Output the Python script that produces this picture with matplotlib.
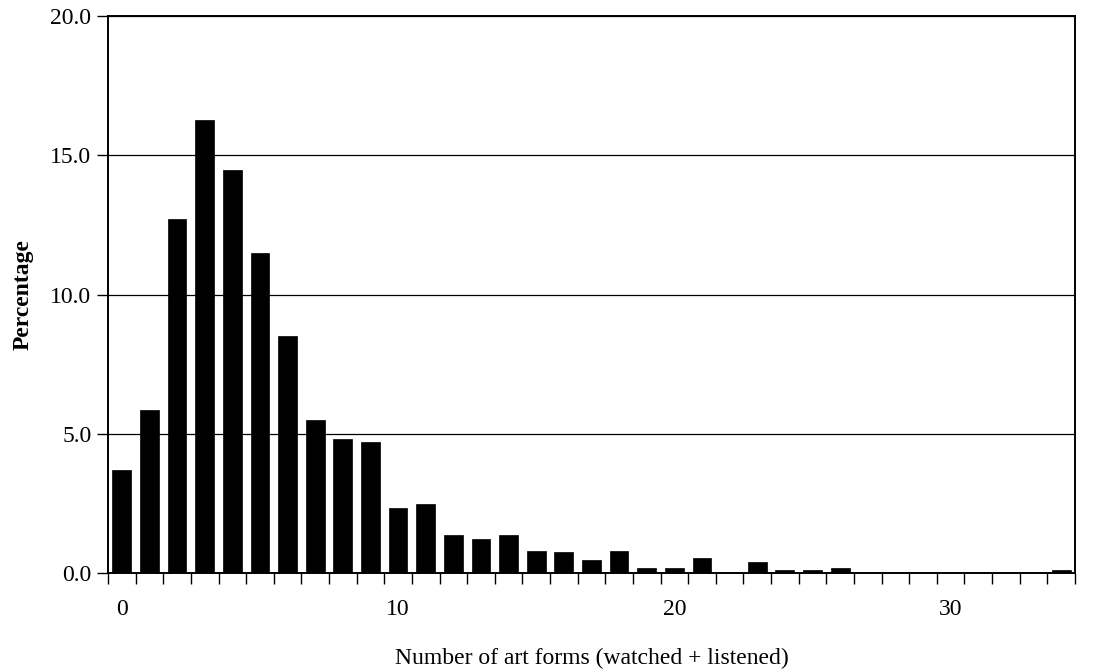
import matplotlib.pyplot as plt
import matplotlib.ticker as ticker
import numpy as np

plt.rcParams.update({
    'font.family': 'Liberation Serif',
    'font.size': 17,
})

# number of art forms watched + listened, 0..34
art_forms = list(range(35))
percentage = [3.70, 5.85, 12.72, 16.26, 14.46, 11.49, 8.50, 5.51, 4.82, 4.69,
              2.33, 2.47, 1.36, 1.21, 1.36, 0.79, 0.74, 0.46, 0.79, 0.17,
              0.17, 0.53, 0.00, 0.38, 0.10, 0.10, 0.17, 0.00, 0.00, 0.00,
              0.00, 0.00, 0.00, 0.00, 0.10]
x_ticks = [0, 10, 20, 30]
y_ticks = [0, 5, 10, 15, 20]

fig = plt.figure(figsize=(10.93, 6.72), dpi=100)
ax = fig.add_axes([0.0988, 0.1473, 0.8847, 0.8289])

ax.bar(art_forms, percentage, width=0.68, color='black', edgecolor='black',
       linewidth=0.5, zorder=3)

ax.set_xlim(-0.5, 34.5)
ax.set_ylim(0, 20)
ax.set_yticks(y_ticks)
ax.yaxis.set_major_formatter(ticker.FuncFormatter(lambda v, _: f'{v:.1f}'))
ax.yaxis.grid(True, color='black', linewidth=0.9, zorder=1)
ax.set_axisbelow(True)

ax.set_xticks(x_ticks)
ax.set_xticks(np.arange(-0.5, 35, 1), minor=True)
ax.tick_params(axis='x', which='major', length=0, pad=19)
ax.tick_params(axis='x', which='minor', length=8, width=1, color='black')
ax.tick_params(axis='y', length=8, width=1, pad=4)

for s in ax.spines.values():
    s.set_linewidth(1.4)
    s.set_color('black')

ax.set_xlabel('Number of art forms (watched + listened)', labelpad=20,
              fontsize=17)
ax.set_ylabel('Percentage', fontweight='bold', labelpad=12)

fig.savefig('out.png', dpi=100)
plt.close(fig)
